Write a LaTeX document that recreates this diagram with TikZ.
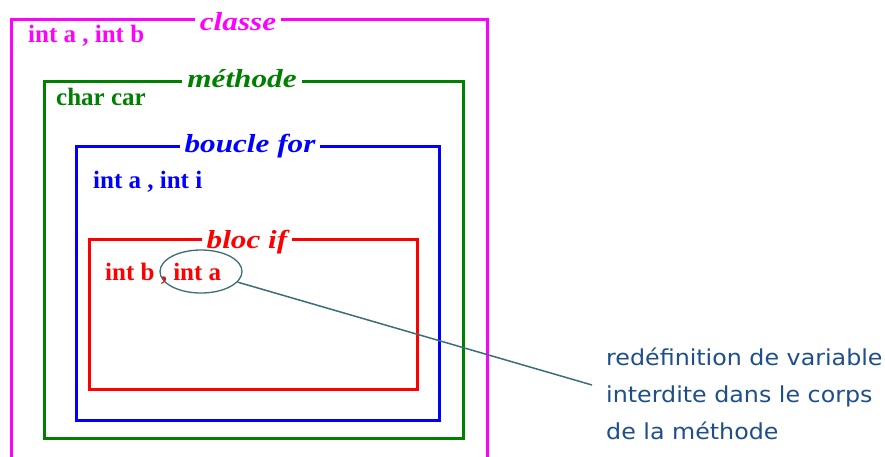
\documentclass[tikz,border=0pt]{standalone}
\usepackage{fontspec}
\setmainfont{Liberation Serif}
\newfontfamily\notefont[FakeStretch=1.08]{DejaVu Sans}
\newfontfamily\labelfont[FakeStretch=1.2]{Liberation Serif}
\usetikzlibrary{shapes.geometric}
\definecolor{cmag}{HTML}{FF00FF}
\definecolor{cgreen}{HTML}{008000}
\definecolor{cblue}{HTML}{0000FF}
\definecolor{cred}{HTML}{FF0000}
\definecolor{cnote}{HTML}{1E4E8C}
\definecolor{cline}{HTML}{3B6E78}
\tikzset{
  scopebox/.style={line width=3pt},
  boxlabel/.style={fill=white,inner xsep=5pt,inner ysep=1pt,anchor=base,font=\labelfont\fontsize{26}{26}\selectfont\bfseries\itshape},
  vartext/.style={anchor=base west,inner sep=0pt,font=\fontsize{25}{25}\selectfont\bfseries},
  notetext/.style={anchor=base west,inner sep=0pt,text=cnote,font=\notefont\fontsize{22}{22}\selectfont},
}
\begin{document}
\begin{tikzpicture}[x=1pt,y=-1pt]
\useasboundingbox (0,0) rectangle (885,456);
\clip (0,0) rectangle (885,456);
\fill[white] (0,0) rectangle (885,456);
% boxes
\draw[scopebox,cmag] (11,470) -- (11,19) -- (487,19) -- (487,470);
\draw[scopebox,cgreen] (44,81) rectangle (463,438);
\draw[scopebox,cblue] (76,146) rectangle (439,420);
\draw[scopebox,cred] (89,239) rectangle (417,389);
% labels
\node[boxlabel,text=cmag] (lclasse) at (238,30) {classe};
\node[boxlabel,text=cgreen] (lmeth) at (242,87) {méthode};
\node[boxlabel,text=cblue] (lfor) at (250,152) {boucle for};
\node[boxlabel,text=cred] (lif) at (247,248) {bloc if};
% variables
\node[vartext,text=cmag] (v1) at (28,42) {int a , int b};
\node[vartext,text=cgreen] (v2) at (56,105) {char car};
\node[vartext,text=cblue] (v3) at (93,188) {int a , int i};
\node[vartext,text=cred] (v4) at (105,280) {int b , int a};
% ellipse and connector
\node[ellipse,draw=cline,line width=1.3pt,minimum width=82pt,minimum height=43pt,inner sep=0pt] (ell) at (201,271.5) {};
\coordinate (noteend) at (592,385);
\draw[cline,line width=1.5pt] (ell) -- (noteend);
% note
\node[notetext] (n1) at (606,365) {redéfinition de variable};
\node[notetext] (n2) at (606,402) {interdite dans le corps};
\node[notetext] (n3) at (606,439) {de la méthode};
\end{tikzpicture}
\end{document}
